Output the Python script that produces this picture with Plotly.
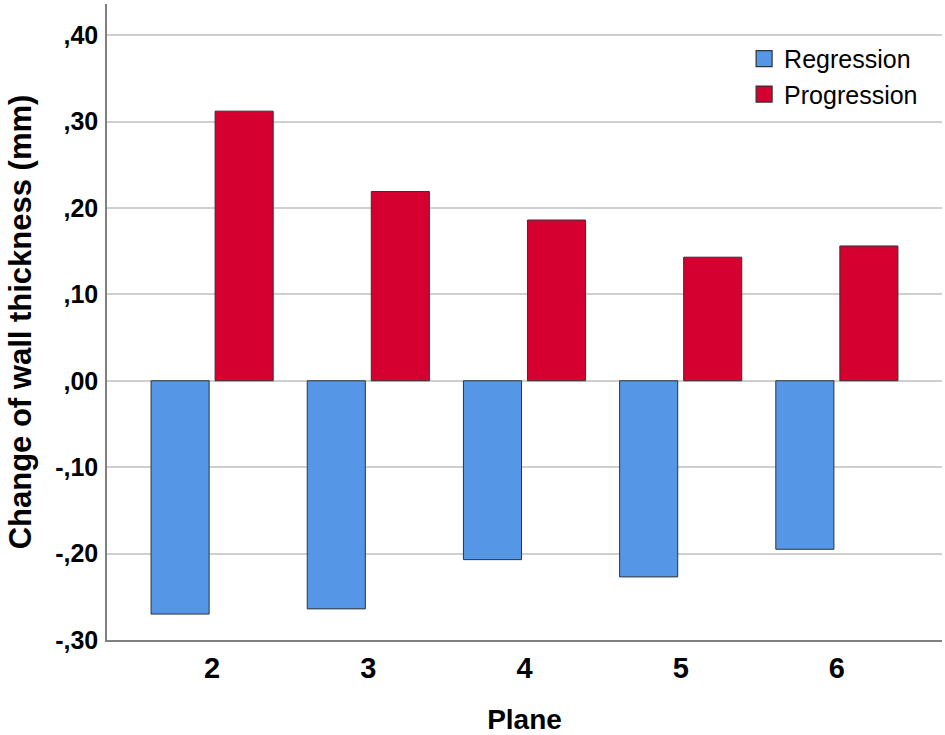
import plotly.graph_objects as go

planes = [2, 3, 4, 5, 6]
plane_labels = ["2", "3", "4", "5", "6"]
regression = [-0.270, -0.264, -0.207, -0.227, -0.195]
progression = [0.312, 0.219, 0.186, 0.143, 0.156]
y_tickvals = [-0.30, -0.20, -0.10, 0.00, 0.10, 0.20, 0.30, 0.40]
y_ticktext = ["-,30", "-,20", "-,10", ",00", ",10", ",20", ",30", ",40"]

BLUE = "#5596E6"
RED = "#D5002F"
EDGE = "#333333"
FONT = "Liberation Sans, Arial, sans-serif"

fig = go.Figure()
fig.add_trace(go.Bar(
    x=planes, y=regression, name="Regression", showlegend=False,
    width=0.372, offset=-0.391,
    marker=dict(color=BLUE, line=dict(color=EDGE, width=1)),
))
fig.add_trace(go.Bar(
    x=planes, y=progression, name="Progression", showlegend=False,
    width=0.372, offset=0.019,
    marker=dict(color=RED, line=dict(color=EDGE, width=1)),
))
# legend keys
for name, col in [("Regression", BLUE), ("Progression", RED)]:
    fig.add_trace(go.Scatter(
        x=[None], y=[None], mode="markers", name=name,
        marker=dict(symbol="square", size=16, color=col, line=dict(color=EDGE, width=1.2)),
    ))

fig.update_layout(
    width=945, height=735,
    margin=dict(l=107, r=3, t=4, b=95),
    paper_bgcolor="white", plot_bgcolor="white",
    barmode="overlay",
    font=dict(family=FONT, color="black"),
    showlegend=True,
    legend=dict(
        x=0.763, y=0.95, xanchor="left", yanchor="top",
        font=dict(family=FONT, size=25, color="black"),
        bgcolor="rgba(0,0,0,0)", tracegroupgap=0, itemwidth=30,
        itemsizing="trace",
    ),
    xaxis=dict(
        range=[1.327, 6.673],
        tickvals=planes, ticktext=plane_labels,
        tickfont=dict(family=FONT, size=29, color="black", weight="bold"),
        showgrid=False, zeroline=False,
        showline=True, linecolor="#808080", linewidth=1.5,
        ticks="", ticklabelstandoff=1,
        title=dict(text="<b>Plane</b>", font=dict(family=FONT, size=28, color="black"), standoff=28),
    ),
    yaxis=dict(
        range=[-0.30, 0.436],
        tickvals=y_tickvals, ticktext=y_ticktext,
        tickfont=dict(family=FONT, size=25, color="black", weight="bold"),
        showgrid=True, gridcolor="#CFCFCF", gridwidth=1.5,
        zeroline=False,
        showline=True, linecolor="#808080", linewidth=1.5,
        ticks="", ticklabelstandoff=2,
        title=dict(text="<b>Change of wall thickness (mm)</b>", font=dict(family=FONT, size=31, color="black"), standoff=14),
    ),
)

fig.write_html("out.html", config={"displayModeBar": False},
               post_script="document.body.style.margin='0';")
